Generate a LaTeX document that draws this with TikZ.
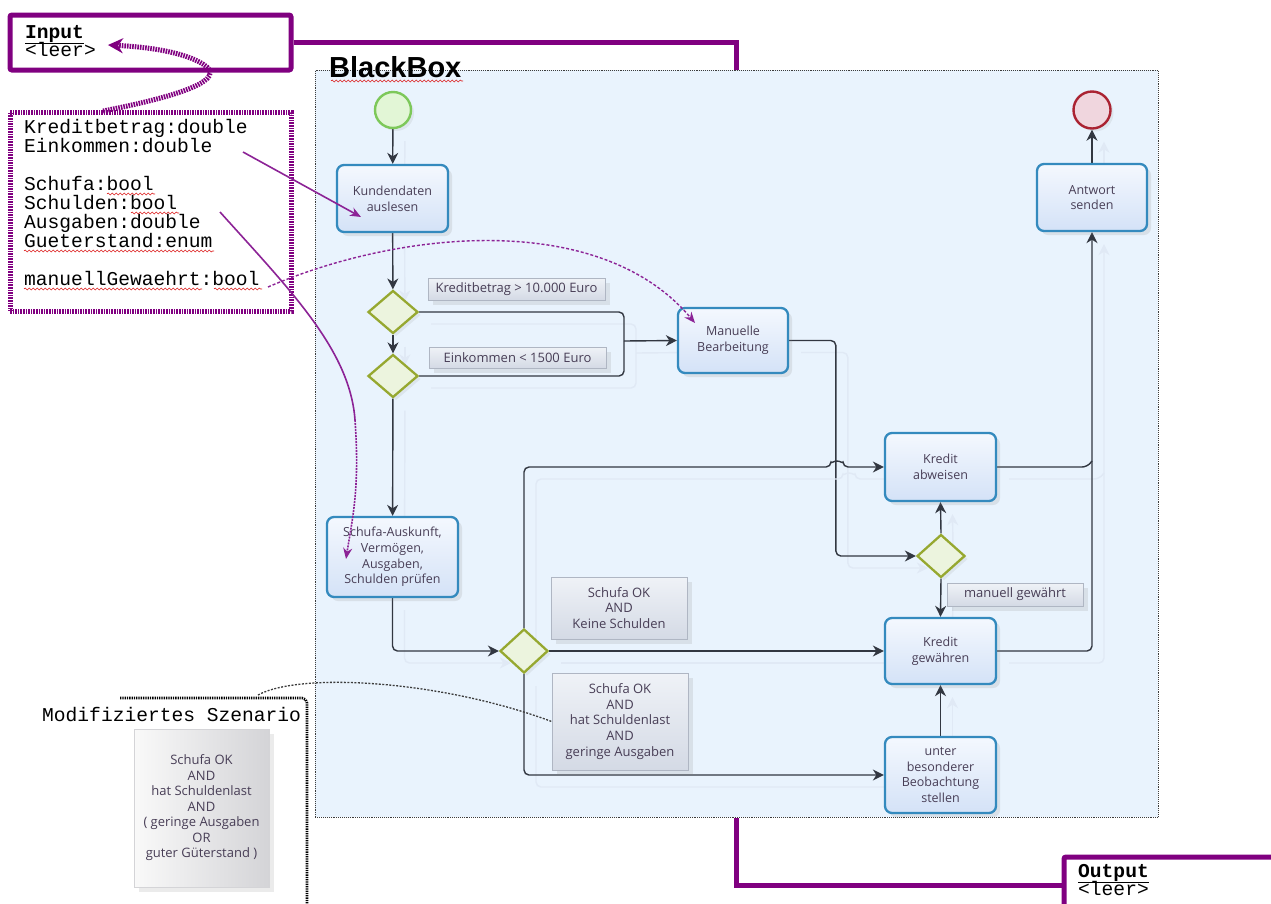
\documentclass[tikz,border=0pt]{standalone}
\usepackage{fontspec}
\setmainfont{Open Sans}
\newfontfamily\codefont{Liberation Mono}
\newfontfamily\headfont{Liberation Sans}
\usetikzlibrary{arrows.meta,shadows,shapes.geometric,decorations.pathmorphing,calc}
\pgfdeclarelayer{back}
\pgfdeclarelayer{wires}
\pgfsetlayers{back,wires,main}

\definecolor{framepurple}{RGB}{128,0,128}
\definecolor{notepurple}{RGB}{140,35,150}
\definecolor{poolfill}{RGB}{233,243,253}
\definecolor{poolline}{RGB}{60,60,60}
\definecolor{taskline}{RGB}{52,138,190}
\definecolor{tasktop}{RGB}{244,248,254}
\definecolor{taskbottom}{RGB}{212,226,247}
\definecolor{gateline}{RGB}{150,168,48}
\definecolor{gatefill}{RGB}{236,244,222}
\definecolor{startline}{RGB}{125,200,90}
\definecolor{startfill}{RGB}{226,246,214}
\definecolor{endline}{RGB}{170,35,50}
\definecolor{endfill}{RGB}{240,214,222}
\definecolor{wire}{RGB}{50,55,65}
\definecolor{wireshade}{RGB}{224,233,245}
\definecolor{tasktext}{RGB}{72,62,86}
\definecolor{notetop}{RGB}{239,242,247}
\definecolor{notebottom}{RGB}{212,218,229}
\definecolor{noteline}{RGB}{175,182,195}
\definecolor{scenleft}{RGB}{249,249,249}
\definecolor{scenright}{RGB}{212,212,215}
\definecolor{spellred}{RGB}{220,30,30}
\definecolor{curvegray}{RGB}{60,60,60}

\tikzset{
  pool/.style={draw=poolline, line width=0.9pt, densely dotted, fill=poolfill, inner sep=0pt},
  task/.style={draw=taskline, line width=2.3pt, rounded corners=7pt,
    top color=tasktop, bottom color=taskbottom,
    drop shadow={shadow xshift=4pt, shadow yshift=-4pt, opacity=0.16},
    align=center, inner sep=0pt, text=tasktext,
    font=\fontsize{12.5}{15.8}\selectfont},
  gate/.style={diamond, draw=gateline, line width=2.3pt, fill=gatefill, inner sep=0pt,
    drop shadow={shadow xshift=3pt, shadow yshift=-3pt, opacity=0.12}},
  event/.style={circle, line width=2.4pt, inner sep=0pt,
    drop shadow={shadow xshift=3pt, shadow yshift=-3pt, opacity=0.12}},
  cond/.style={draw=noteline, line width=0.6pt, top color=notetop, bottom color=notebottom,
    drop shadow={shadow xshift=5pt, shadow yshift=-5pt, opacity=0.16},
    align=center, inner sep=0pt, text=tasktext,
    font=\fontsize{13}{15.7}\selectfont},
  wire/.style={draw=wire, line width=1.4pt,
    preaction={draw=wireshade, line width=1.4pt, transform canvas={shift={(12pt,-12pt)}}}},
  flow/.style={wire, -{Stealth[length=11pt,width=11pt,inset=3.5pt]}},
  purplebox/.style={draw=framepurple, line width=5pt, rounded corners=2pt, inner sep=0pt},
  purpleline/.style={draw=framepurple, line width=5pt},
  purpledots/.style={draw=framepurple, line width=5pt, dash pattern=on 1.6pt off 1pt},
  notearrow/.style={draw=notepurple, line width=1.6pt, -{Stealth[length=11pt,width=9pt]}},
  codetext/.style={font=\codefont\fontsize{19.6}{19}\selectfont, inner sep=0pt, anchor=base west, text=black},
  spell/.style={draw=spellred, line width=0.6pt, decorate,
    decoration={snake, amplitude=1pt, segment length=4pt}},
}

\begin{document}
\begin{tikzpicture}[x=1pt,y=-1pt]
\useasboundingbox (0,0) rectangle (1271,903);

% ---------- process container ----------
\begin{pgfonlayer}{back}
  \node[pool, minimum width=843, minimum height=747, anchor=north west] (pool) at (315,70) {};
\end{pgfonlayer}
\node[font=\headfont\bfseries\fontsize{29}{30}\selectfont, anchor=base west, inner sep=0pt] (title) at (329,77) {BlackBox};
\draw[spell] (331,81) -- (463,81);

% ---------- events ----------
\node[event, draw=startline, fill=startfill, minimum size=36] (start) at (393,110) {};
\node[event, draw=endline, fill=endfill, minimum size=37] (end) at (1092,110) {};

% ---------- tasks ----------
\node[task, minimum width=111, minimum height=67] (kd) at (392.5,198.5) {Kundendaten\\auslesen};
\node[task, minimum width=110, minimum height=65] (man) at (733,340.5) {Manuelle\\Bearbeitung};
\node[task, minimum width=131, minimum height=80] (sch) at (392.5,557) {Schufa-Auskunft,\\Vermögen,\\Ausgaben,\\Schulden prüfen};
\node[task, minimum width=111, minimum height=68] (ab) at (940.5,467) {Kredit\\abweisen};
\node[task, minimum width=111, minimum height=66] (gw) at (940.5,651) {Kredit\\gewähren};
\node[task, minimum width=111, minimum height=76] (beo) at (940.5,775) {unter\\besonderer\\Beobachtung\\stellen};
\node[task, minimum width=110, minimum height=67] (ant) at (1092,197.5) {Antwort\\senden};

% ---------- gateways ----------
\node[gate, minimum width=50, minimum height=43] (d1) at (393,312) {};
\node[gate, minimum width=50, minimum height=43] (d2) at (393,376) {};
\node[gate, minimum width=48, minimum height=43] (d3) at (941,556) {};
\node[gate, minimum width=48, minimum height=44] (d4) at (524,651) {};

% ---------- conditions ----------
\node[cond, minimum width=177, minimum height=22] (c1) at (516.5,289) {Kreditbetrag > 10.000 Euro};
\node[cond, minimum width=177, minimum height=21] (c2) at (517.5,357.5) {Einkommen < 1500 Euro};
\node[cond, minimum width=136, minimum height=23] (c3) at (1015,594.5) {manuell gewährt};
\node[cond, minimum width=136, minimum height=62] (c4) at (619,608) {Schufa OK\\AND\\Keine Schulden};
\node[cond, minimum width=136, minimum height=97] (c5) at (620,721.5) {Schufa OK\\AND\\hat Schuldenlast\\AND\\geringe Ausgaben};

% ---------- sequence flows ----------
\coordinate (merge) at (624,341);
\begin{pgfonlayer}{wires}
  \draw[flow] (start) -- (kd);
  \draw[flow] (kd) -- (d1);
  \draw[flow] (d1) -- (d2);
  \draw[wire, rounded corners=5pt] (d1.east) -| (merge);
  \draw[wire, rounded corners=5pt] (d2.east) -| (merge);
  \draw[flow] (merge) -- (man.west);
  \draw[flow, rounded corners=5pt] (man.east) -| ($(d3.west)+(-80,0)$) -- (d3.west);
  \draw[flow] (d2) -- (sch);
  \draw[flow, rounded corners=5pt] (sch.south) |- (d4.west);
  \draw[flow, rounded corners=5pt] (d4.north) -- (d4.north |- ab.west) -- (831,467)
        arc[start angle=180, end angle=360, radius=6] -- (ab.west);
  \draw[flow] (d4.east) -- (gw.west);
  \draw[flow, rounded corners=5pt] (d4.south) |- (beo.west);
  \draw[flow] (d3.north) -- (ab.south);
  \draw[flow] (d3.south) -- (gw.north);
  \draw[flow] (beo.north) -- (gw.south);
  \draw[wire, rounded corners=5pt] (ab.east) -- ($(ant.south |- ab.east)+(-5,0)$) -- ($(ant.south |- ab.east)+(0,-6)$);
  \draw[flow, rounded corners=5pt] (gw.east) -| (ant.south);
  \draw[flow] (ant.north) -- (end.south);
\end{pgfonlayer}

% ---------- input / output frames ----------
\node[purplebox, minimum width=281, minimum height=55, anchor=north west] (inbox) at (7.5,12.5) {};
\node[codetext, font=\codefont\bfseries\fontsize{19.6}{19}\selectfont] (intitle) at (25,38) {\underline{Input}};
\node[codetext] (inleer) at (25,56) {<leer>};
\draw[purpleline] (inbox.east) -| ($(pool.north west)+(421,0)$);

\node[purplebox, minimum width=240, minimum height=56, anchor=north west] (outbox) at (1061.5,854.5) {};
\node[codetext, font=\codefont\bfseries\fontsize{19.6}{19}\selectfont] (outtitle) at (1078,877) {\underline{Output}};
\node[codetext] (outleer) at (1078,895) {<leer>};
\draw[purpleline] ($(pool.south west)+(421,0)$) |- (outbox.west);

% ---------- data fields ----------
\node[purpledots, minimum width=281, minimum height=199, anchor=north west, inner sep=0pt] (vars) at (7.5,109.5) {};
\node[codetext] (v1) at (24,133) {Kreditbetrag:double};
\node[codetext] (v2) at (24,152) {Einkommen:double};
\node[codetext] (v3) at (24,190) {Schufa:bool};
\node[codetext] (v4) at (24,209) {Schulden:bool};
\node[codetext] (v5) at (24,228) {Ausgaben:double};
\node[codetext] (v6) at (24,247) {Gueterstand:enum};
\node[codetext] (v7) at (24,285) {manuellGewaehrt:bool};
\draw[spell] (107,194) -- (155,194);
\draw[spell] (131,213) -- (179,213);
\draw[spell] (24,251) -- (214,251);
\draw[spell] (24,289) -- (202,289);
\draw[spell] (214,289) -- (262,289);

% data field references
\coordinate (vtop) at (103,111);
\draw[purpledots, -{Stealth[length=15pt,width=15pt]}] (vtop)
   .. controls (170,98) and (224,82) .. (207,67)
   .. controls (190,53) and (150,47) .. ($(inleer.east)+(12,-4)$);
\coordinate (eink) at (243,152);
\coordinate (kdin) at (361,217);
\draw[notearrow] (eink) -- (kdin);
\coordinate (schul) at (220,212);
\coordinate (bend) at (355,420);
\coordinate (schin) at (346,559);
\draw[draw=notepurple, line width=1.6pt] (schul) .. controls (290,290) and (350,350) .. (bend);
\draw[notearrow, dash pattern=on 2pt off 1pt] (bend) .. controls (360,490) and (352,520) .. (schin);
\coordinate (manu) at (268,287);
\coordinate (manin) at (695,323);
\draw[notearrow, dash pattern=on 3pt off 2pt, line width=1.4pt] (manu) .. controls (400,230) and (600,210) .. (manin);

% ---------- modified scenario ----------
\draw[line width=2.6pt, dash pattern=on 1.3pt off 1pt, rounded corners=5pt] (120,698) -- (307,698) -- (307,906);
\node[codetext] (scen) at (42,721) {Modifiziertes Szenario};
\node[cond, draw=scenright, left color=scenleft, right color=scenright, minimum width=135, minimum height=158,
      font=\fontsize{13}{15.5}\selectfont] (c6) at (201.5,808)
  {Schufa OK\\AND\\hat Schuldenlast\\AND\\( geringe Ausgaben\\OR\\guter Güterstand )};
\coordinate (ms) at (258,695);
\draw[draw=curvegray, line width=1.3pt, dash pattern=on 2pt off 1.5pt]
  (ms) .. controls (300,672) and (440,680) .. (c5.west);
\end{tikzpicture}
\end{document}
